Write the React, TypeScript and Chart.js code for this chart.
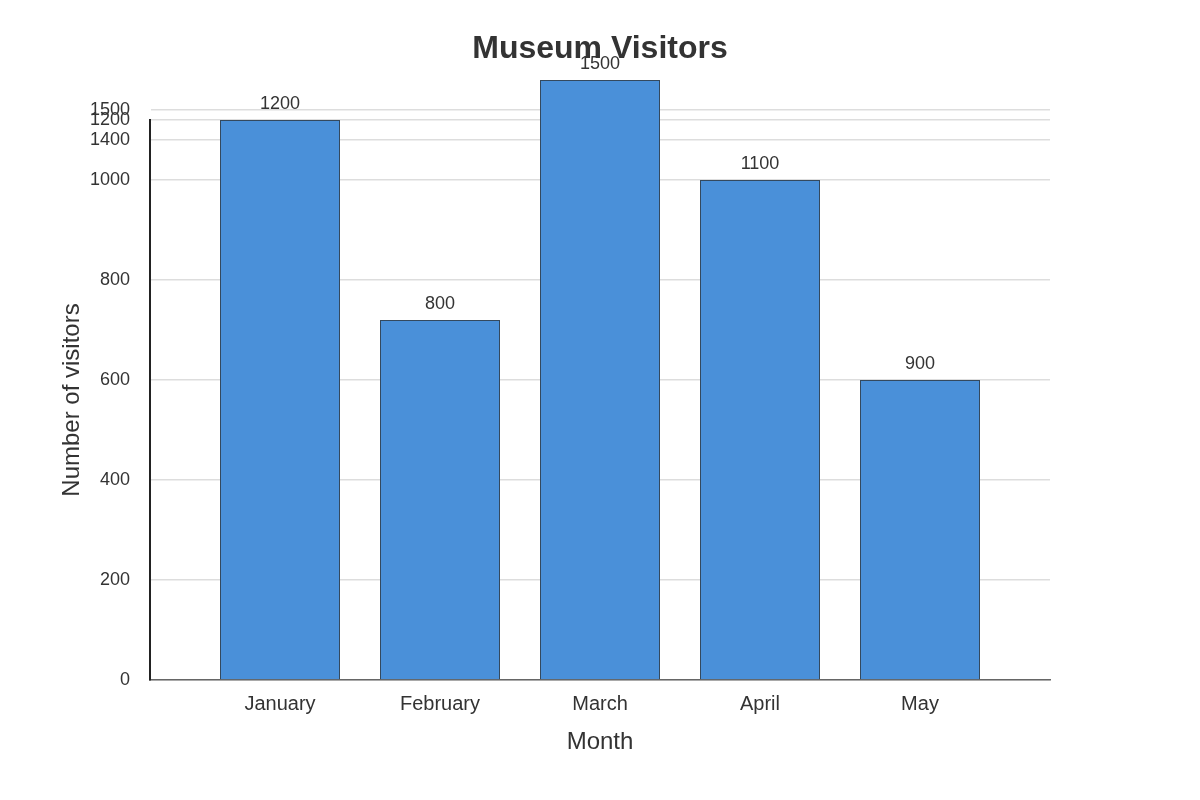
import React, { useEffect, useRef } from 'react';
import { Chart, registerables, Plugin } from 'chart.js';

Chart.register(...registerables);

// bar heights as placed on the value axis, and the numbers printed above them
const months = ['January', 'February', 'March', 'April', 'May'];
const barHeights = [1120, 720, 1200, 1000, 600];
const barLabels = ['1200', '800', '1500', '1100', '900'];

// y tick positions and the text shown at each of them
const tickValues = [0, 200, 400, 600, 800, 1000, 1080, 1120, 1140];
const tickLabels = ['0', '200', '400', '600', '800', '1000', '1400', '1200', '1500'];

const FONT = "'Liberation Sans', Arial, sans-serif";

const valueLabels: Plugin<'bar'> = {
  id: 'valueLabels',
  afterDatasetsDraw(chart) {
    const { ctx } = chart;
    const meta = chart.getDatasetMeta(0);
    ctx.save();
    ctx.font = `18px ${FONT}`;
    ctx.fillStyle = '#333333';
    ctx.textAlign = 'center';
    ctx.textBaseline = 'middle';
    meta.data.forEach((bar, i) => {
      ctx.fillText(barLabels[i], bar.x, bar.y - 16);
    });
    ctx.restore();
  },
};

// title centred on the whole canvas rather than on the plot
const pageTitle: Plugin<'bar'> = {
  id: 'pageTitle',
  afterDatasetsDraw(chart) {
    const { ctx, width } = chart;
    ctx.save();
    ctx.font = `bold 32px ${FONT}`;
    ctx.fillStyle = '#333333';
    ctx.textAlign = 'center';
    ctx.textBaseline = 'middle';
    ctx.fillText('Museum Visitors', width / 2, 49);
    ctx.restore();
  },
};

const App: React.FC = () => {
  const canvasRef = useRef<HTMLCanvasElement>(null);
  const chartRef = useRef<Chart | null>(null);

  useEffect(() => {
    if (!canvasRef.current) return;
    if (chartRef.current) chartRef.current.destroy();

    chartRef.current = new Chart(canvasRef.current, {
      type: 'bar',
      data: {
        datasets: [
          {
            data: barHeights.map((y, i) => ({ x: i, y })),
            backgroundColor: '#4a90d9',
            borderColor: '#34495e',
            borderWidth: 1,
            categoryPercentage: 1,
            barPercentage: 0.75,
            clip: false,
          },
        ],
      },
      options: {
        responsive: false,
        animation: false,
        devicePixelRatio: 1,
        layout: { padding: { left: 0, right: 150, top: 120, bottom: 0 } },
        plugins: {
          legend: { display: false },
          tooltip: { enabled: false },
          title: { display: false },
        },
        scales: {
          x: {
            type: 'linear',
            min: -0.8125,
            max: 4.8125,
            offset: false,
            grid: { display: false },
            border: { color: '#666666', width: 1.5 },
            ticks: {
              color: '#333333',
              font: { family: FONT, size: 20 },
              padding: 4,
              autoSkip: false,
              maxRotation: 0,
              callback: (value) => months[Number(value)] ?? '',
            },
            afterBuildTicks: (scale) => {
              scale.ticks = months.map((_, i) => ({ value: i }));
            },
            title: {
              display: true,
              text: 'Month',
              color: '#333333',
              font: { family: FONT, size: 24 },
              padding: { bottom: 43 },
            },
            afterFit: (scale) => {
              scale.height = 120;
            },
          },
          y: {
            min: 0,
            max: 1120,
            border: { color: '#222222', width: 2 },
            grid: { color: '#dddddd', lineWidth: 1.5, drawTicks: false },
            ticks: {
              color: '#333333',
              font: { family: FONT, size: 18 },
              padding: 20,
              autoSkip: false,
              callback: (value) => {
                const idx = tickValues.indexOf(Number(value));
                return idx >= 0 ? tickLabels[idx] : '';
              },
            },
            afterBuildTicks: (scale) => {
              scale.ticks = tickValues.map((v) => ({ value: v }));
            },
            title: {
              display: true,
              text: 'Number of visitors',
              color: '#333333',
              font: { family: FONT, size: 24 },
              padding: { top: 57.6 },
            },
            afterFit: (scale) => {
              scale.width = 150;
            },
          },
        },
      },
      plugins: [pageTitle, valueLabels],
    });

    return () => {
      if (chartRef.current) {
        chartRef.current.destroy();
        chartRef.current = null;
      }
    };
  }, []);

  return (
    <div style={{ position: 'absolute', left: 0, top: 0, width: 1200, height: 800, background: '#ffffff' }}>
      <canvas ref={canvasRef} width={1200} height={800} style={{ display: 'block' }} />
    </div>
  );
};

export default App;
